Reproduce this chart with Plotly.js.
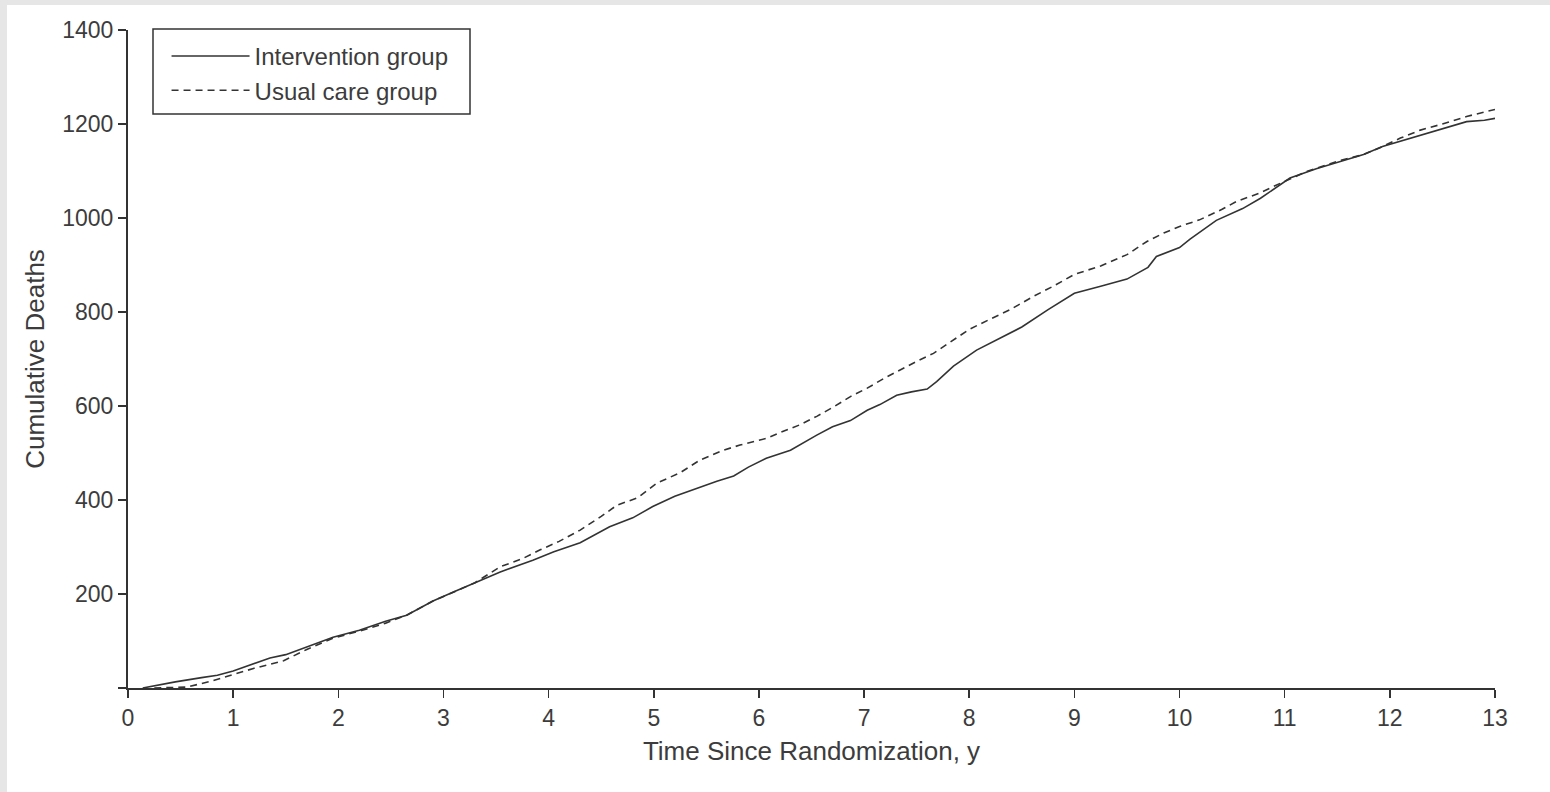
<!DOCTYPE html>
<html>
<head>
<meta charset="utf-8">
<script src="https://cdn.plot.ly/plotly-3.0.1.min.js"></script>
<style>
  html, body { margin: 0; padding: 0; background: #e6e6e6; width: 1550px; height: 792px; overflow: hidden; }
  #chart { position: absolute; left: 7px; top: 5px; width: 1543px; height: 787px; background: #ffffff; }
</style>
</head>
<body>
<div id="chart"></div>
<script>
// Intervention group (solid line)
const interventionYears = [0.14, 0.3, 0.45, 0.7, 0.85, 1.0, 1.2, 1.35, 1.5, 1.7, 1.95, 2.2, 2.45, 2.65, 2.9, 3.1, 3.3, 3.54, 3.85, 4.05, 4.3, 4.58, 4.8, 4.99, 5.2, 5.44, 5.6, 5.76, 5.9, 6.07, 6.3, 6.55, 6.7, 6.87, 7.03, 7.15, 7.31, 7.45, 7.6, 7.69, 7.85, 8.07, 8.3, 8.5, 8.75, 9.0, 9.25, 9.5, 9.7, 9.78, 10.0, 10.1, 10.35, 10.6, 10.77, 11.05, 11.3, 11.5, 11.75, 11.93, 12.2, 12.41, 12.73, 12.9, 13.0];
const interventionDeaths = [0, 7, 13, 22, 27, 36, 52, 64, 71, 87, 108, 123, 142, 155, 185, 205, 224, 247, 272, 290, 309, 343, 362, 386, 408, 428, 440, 451, 470, 489, 506, 538, 556, 569, 591, 603, 623, 630, 636, 652, 685, 719, 745, 768, 805, 840, 855, 870, 895, 918, 937, 955, 995, 1020, 1042, 1085, 1105, 1118, 1135, 1152, 1170, 1185, 1205, 1208, 1212];

// Usual care group (dashed line)
const usualYears = [0.25, 0.56, 0.8, 1.0, 1.2, 1.48, 1.7, 1.95, 2.2, 2.45, 2.65, 2.9, 3.1, 3.3, 3.54, 3.75, 3.92, 4.1, 4.3, 4.5, 4.65, 4.85, 5.03, 5.25, 5.44, 5.65, 5.82, 6.07, 6.25, 6.39, 6.55, 6.71, 6.87, 7.03, 7.2, 7.34, 7.5, 7.66, 7.85, 8.0, 8.2, 8.39, 8.6, 8.8, 9.0, 9.25, 9.5, 9.69, 9.85, 10.0, 10.19, 10.4, 10.54, 10.75, 10.96, 11.2, 11.49, 11.75, 11.93, 12.1, 12.29, 12.5, 12.73, 13.0];
const usualDeaths = [0, 2, 15, 28, 42, 58, 82, 106, 121, 138, 155, 185, 205, 224, 258, 275, 294, 312, 336, 365, 389, 405, 436, 458, 485, 505, 517, 531, 548, 560, 578, 598, 620, 638, 660, 677, 695, 712, 740, 763, 785, 805, 832, 855, 880, 898, 922, 950, 968, 982, 996, 1018, 1035, 1052, 1074, 1098, 1120, 1135, 1152, 1170, 1187, 1200, 1216, 1231];

const seriesNames = ["Intervention group", "Usual care group"];
const xTickVals = [0, 1, 2, 3, 4, 5, 6, 7, 8, 9, 10, 11, 12, 13];
const yTickVals = [0, 200, 400, 600, 800, 1000, 1200, 1400];
const yTickText = ["", "200", "400", "600", "800", "1000", "1200", "1400"];
const xTitle = "Time Since Randomization, y";
const yTitle = "Cumulative Deaths";

const ink = "#333333";
const txt = "#3c3c3c";
const fam = "'Liberation Sans', Arial, Helvetica, sans-serif";

const traces = [
  { x: interventionYears, y: interventionDeaths, name: seriesNames[0], type: "scatter", mode: "lines",
    line: { color: ink, width: 1.6, dash: "solid" } },
  { x: usualYears, y: usualDeaths, name: seriesNames[1], type: "scatter", mode: "lines",
    line: { color: ink, width: 1.6, dash: "7px,5px" } }
];

const layout = {
  width: 1543, height: 787,
  margin: { l: 121, r: 55, t: 25, b: 104 },
  paper_bgcolor: "#ffffff", plot_bgcolor: "#ffffff",
  font: { family: fam, color: txt, size: 23 },
  showlegend: true,
  legend: {
    x: 0.0282, y: 0.994, xanchor: "left", yanchor: "top",
    bgcolor: "rgba(0,0,0,0)", borderwidth: 0,
    font: { family: fam, size: 24, color: txt },
    itemwidth: 78, tracegroupgap: 0
  },
  xaxis: {
    range: [0, 13], tickmode: "array", tickvals: xTickVals,
    showline: true, linecolor: ink, linewidth: 2,
    ticks: "outside", ticklen: 8, tickwidth: 1.6, tickcolor: ink,
    showgrid: false, zeroline: false,
    tickfont: { family: fam, size: 23, color: txt },
    title: { text: xTitle, font: { family: fam, size: 26, color: txt }, standoff: 12 }
  },
  yaxis: {
    range: [0, 1400], tickmode: "array", tickvals: yTickVals, ticktext: yTickText,
    showline: true, linecolor: ink, linewidth: 2,
    ticks: "outside", ticklen: 8, tickwidth: 1.6, tickcolor: ink,
    showgrid: false, zeroline: false,
    tickfont: { family: fam, size: 23, color: txt },
    title: { text: yTitle, font: { family: fam, size: 26, color: txt }, standoff: 10 }
  },
  shapes: [
    { type: "rect", xref: "paper", yref: "paper",
      x0: (146 - 121) / 1367, x1: (463 - 121) / 1367,
      y0: (683 - 109) / 658, y1: (683 - 24) / 658,
      line: { color: ink, width: 1.5 }, fillcolor: "rgba(0,0,0,0)" }
  ]
};

Plotly.newPlot("chart", traces, layout, { displayModeBar: false, staticPlot: true });
</script>
</body>
</html>
